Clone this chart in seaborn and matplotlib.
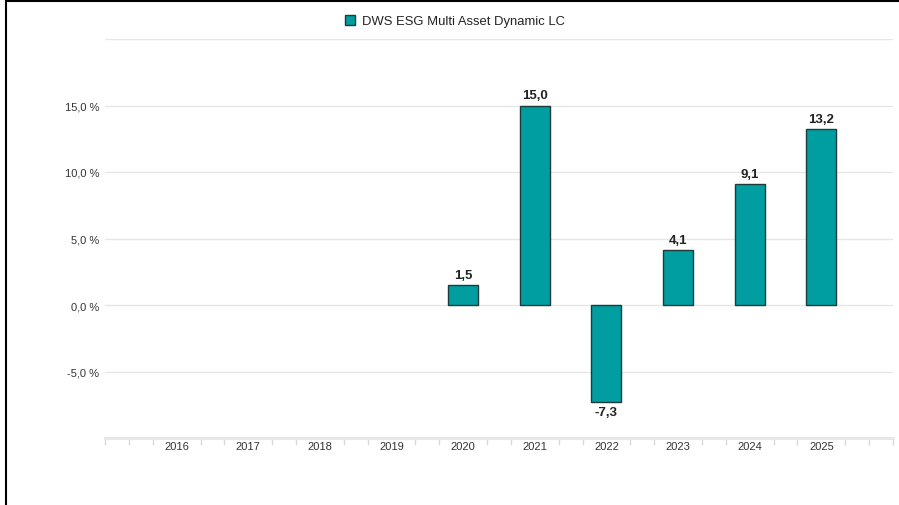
import numpy as np
import pandas as pd
import matplotlib
matplotlib.use("Agg")
import matplotlib.pyplot as plt
import seaborn as sns
from matplotlib.patches import Patch
from matplotlib.lines import Line2D

years = ["2016", "2017", "2018", "2019", "2020", "2021", "2022", "2023", "2024", "2025"]
returns = [np.nan, np.nan, np.nan, np.nan, 1.5, 15.0, -7.3, 4.1, 9.1, 13.2]
series_name = "DWS ESG Multi Asset Dynamic LC"
y_ticks = [-5, 0, 5, 10, 15, 20]

bar_color = "#009EA0"
edge_color = "#1E3B3B"

sns.set_theme(style="white")
plt.rcParams["font.family"] = ["Liberation Sans", "DejaVu Sans"]

df = pd.DataFrame({"year": years, "ret": returns})

fig = plt.figure(figsize=(8.99, 5.06), dpi=100)
ax = fig.add_axes([105/899, 1-439/506, (893-105)/899, (439-40)/506])

sns.barplot(data=df, x="year", y="ret", order=years, color=bar_color,
            width=0.42, edgecolor=edge_color, linewidth=1.0, saturation=1,
            ax=ax, zorder=3)

ax.set_xlim(-1, 10)
ax.set_ylim(-10, 20)
ax.set_xlabel("")
ax.set_ylabel("")

# gridlines
ax.set_yticks(y_ticks)
ax.set_yticklabels([f"{t:.1f} %".replace(".", ",") if t != 20 else "" for t in y_ticks],
                   fontsize=8, color="#333333")
ax.yaxis.grid(True, color="#e6e6e6", linewidth=1, zorder=0)
ax.tick_params(axis="y", length=0, pad=4)

ax.set_xticks(range(len(years)))
ax.set_xticklabels(years, fontsize=8, color="#333333")
ax.tick_params(axis="x", which="major", length=0, pad=2)
minor = [j/3 for j in range(-3, 31) if j % 3 != 0 or j in (-3, 30)]
ax.set_xticks(minor, minor=True)
ax.tick_params(axis="x", which="minor", bottom=True, length=5, width=1,
               color="#d9d9d9", direction="out")

for s in ["top", "right", "left"]:
    ax.spines[s].set_visible(False)
ax.spines["bottom"].set_color("#e6e6e6")
ax.spines["bottom"].set_linewidth(2)

# value labels
for i, v in enumerate(returns):
    if np.isnan(v):
        continue
    label = f"{v:.1f}".replace(".", ",")
    if v >= 0:
        ax.annotate(label, (i, v), xytext=(0, 3), textcoords="offset points",
                    ha="center", va="bottom", fontsize=9.5, fontweight="semibold", color="#222222")
    else:
        ax.annotate(label, (i, v), xytext=(0, -3), textcoords="offset points",
                    ha="center", va="top", fontsize=9.5, fontweight="semibold", color="#222222")

handle = Patch(facecolor=bar_color, edgecolor=edge_color, linewidth=1.0)
fig.legend([handle], [series_name], loc="center", bbox_to_anchor=(455/899, 1-22/506),
           frameon=False, fontsize=9.4, handlelength=0.8, handleheight=0.8,
           handletextpad=0.5, labelcolor="#222222")

# figure border lines (left and top)
fig.add_artist(Line2D([5.5/899, 5.5/899], [0, 1], color="black", lw=1.5, transform=fig.transFigure))
fig.add_artist(Line2D([5.5/899, 1], [1-1.5/506, 1-1.5/506], color="black", lw=1.5, transform=fig.transFigure))

fig.savefig("out.png", dpi=100)
